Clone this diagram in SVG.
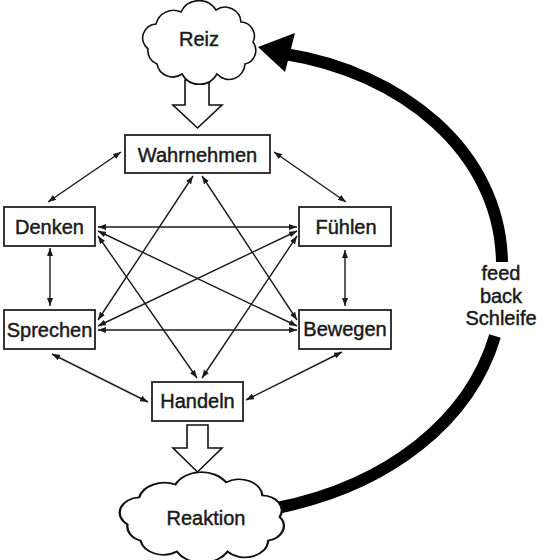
<svg xmlns="http://www.w3.org/2000/svg" width="545" height="560" viewBox="0 0 545 560">
<style>
.box{fill:#fff;stroke:#222;stroke-width:1.8}
.lbl{font-family:"Liberation Sans",Arial,sans-serif;font-size:20px;fill:#1a1a1a;stroke:#1a1a1a;stroke-width:0.45;text-anchor:middle}
.cloud{fill:#fff;stroke:#111;stroke-width:1.6}
.con line{stroke:#1a1a1a;stroke-width:1.4;marker-start:url(#ah);marker-end:url(#ah)}
.hollow{fill:#fff;stroke:#111;stroke-width:1.6;stroke-linejoin:miter}
.fb{fill:none;stroke:#000;stroke-width:12}
</style>
<defs>
<marker id="ah" viewBox="0 0 8 6" refX="8" refY="3" markerWidth="8" markerHeight="6" markerUnits="userSpaceOnUse" orient="auto-start-reverse">
<path d="M0,0 L8,3 L0,6 z" fill="#1a1a1a"/>
</marker>
<path id="cl" d="M-50,6 a14 14 0 0 1 8,-25 a18 18 0 0 1 25,-12 a20 20 0 0 1 35,-2 a16 16 0 0 1 25,12 a14 14 0 0 1 12,20 a14 14 0 0 1 -8,22 a16 16 0 0 1 -28,10 a20 20 0 0 1 -35,0 a16 16 0 0 1 -25,-10 a14 14 0 0 1 -9,-15 z"/>
</defs>
<rect width="545" height="560" fill="#fff"/>

<g id="connectors" class="con">
<line x1="121" y1="152" x2="48" y2="202"/>
<line x1="274" y1="152" x2="346" y2="202"/>
<line x1="50" y1="248" x2="50" y2="306"/>
<line x1="345" y1="250" x2="345" y2="306"/>
<line x1="52" y1="354" x2="148" y2="402"/>
<line x1="342" y1="352" x2="246" y2="400"/>
<line x1="98" y1="227" x2="297" y2="227"/>
<line x1="98" y1="330" x2="297" y2="330"/>
<line x1="98" y1="231" x2="297" y2="326"/>
<line x1="98" y1="326" x2="297" y2="231"/>
<line x1="98" y1="236" x2="197" y2="378"/>
<line x1="297" y1="236" x2="202" y2="378"/>
<line x1="193" y1="176" x2="98" y2="320"/>
<line x1="202" y1="176" x2="297" y2="320"/>
</g>

<g id="arrow-in">
<polygon class="hollow" points="185,80 209,80 209,105 222,105 197.5,128 173,105 185,105"/>
</g>
<g id="arrow-out">
<polygon class="hollow" points="187,425 208,425 208,448 222,448 197.5,472 173,448 187,448"/>
</g>

<g id="feedback">
<path class="fb" d="M277,508 C390,485 470,420 495,336"/>
<path class="fb" d="M502,262 C500,150 400,72 285,54"/>
<polygon points="258,47 295,33 285,72" fill="#000"/>
<text class="lbl" x="501" y="280">feed</text>
<text class="lbl" x="501" y="303">back</text>
<text class="lbl" x="501" y="325">Schleife</text>
</g>

<g id="reiz">
<use href="#cl" class="cloud" transform="translate(198,43)" />
<text class="lbl" x="199" y="46">Reiz</text>
</g>

<g id="wahrnehmen">
<rect class="box" x="125" y="135" width="145" height="38"/>
<text class="lbl" x="197.5" y="162">Wahrnehmen</text>
</g>
<g id="denken">
<rect class="box" x="4" y="207" width="91" height="39"/>
<text class="lbl" x="49.5" y="234">Denken</text>
</g>
<g id="fuehlen">
<rect class="box" x="299" y="207" width="92" height="39"/>
<text class="lbl" x="346" y="234">Fühlen</text>
</g>
<g id="sprechen">
<rect class="box" x="4" y="310" width="91" height="39"/>
<text class="lbl" x="49.5" y="337">Sprechen</text>
</g>
<g id="bewegen">
<rect class="box" x="299" y="310" width="92" height="39"/>
<text class="lbl" x="345" y="336">Bewegen</text>
</g>
<g id="handeln">
<rect class="box" x="152" y="382" width="91" height="39"/>
<text class="lbl" x="197.5" y="408">Handeln</text>
</g>

<g id="reaktion">
<use href="#cl" class="cloud" transform="translate(200,518) scale(1.45,1.08)" style="vector-effect:non-scaling-stroke"/>
<text class="lbl" x="206" y="525">Reaktion</text>
</g>
</svg>
